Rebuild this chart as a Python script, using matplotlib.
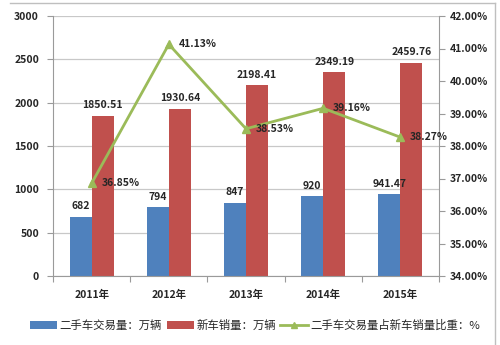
import matplotlib
matplotlib.use("Agg")
import matplotlib.pyplot as plt
from matplotlib.lines import Line2D
import numpy as np

plt.rcParams['font.family'] = ['Noto Sans CJK SC', 'DejaVu Sans']

years = ["2011年", "2012年", "2013年", "2014年", "2015年"]
used_cars = [682, 794, 847, 920, 941.47]
new_cars = [1850.51, 1930.64, 2198.41, 2349.19, 2459.76]
ratio = [36.85, 41.13, 38.53, 39.16, 38.27]
used_labels = ["682", "794", "847", "920", "941.47"]
new_labels = ["1850.51", "1930.64", "2198.41", "2349.19", "2459.76"]

BLUE = "#4F81BD"
RED = "#C0504D"
GREEN = "#9BBB59"
TXT = "#262626"
GRID = "#C8C8C8"
SPINE = "#9A9A9A"

fig = plt.figure(figsize=(5.0, 3.45), dpi=100)
ax = fig.add_axes([53/500, 1-276/345, (439-53)/500, (276-16)/345])
ax2 = ax.twinx()

x = np.arange(len(years))
w = 0.285
b1 = ax.bar(x - w/2, used_cars, w, color=BLUE, zorder=2)
b2 = ax.bar(x + w/2, new_cars, w, color=RED, zorder=2)

for xi, v, s in zip(x, used_cars, used_labels):
    ax.annotate(s, (xi - w/2, v), xytext=(0, 4), textcoords="offset points",
                ha="center", va="bottom", fontsize=7.5, fontweight="bold", color=TXT)
for xi, v, s in zip(x, new_cars, new_labels):
    ax.annotate(s, (xi + w/2, v), xytext=(0, 4), textcoords="offset points",
                ha="center", va="bottom", fontsize=7.5, fontweight="bold", color=TXT)

ax.set_ylim(0, 3000)
ax.set_yticks(np.arange(0, 3001, 500))
ax.set_xlim(-0.5, len(years) - 0.5)
ax.set_xticks(np.arange(-0.5, len(years), 1.0))
ax.set_xticklabels([])
ax.set_xticks(x, minor=True)
ax.set_xticklabels(years, minor=True)
ax.tick_params(axis="x", which="major", length=4, direction="out", color=SPINE)
ax.tick_params(axis="x", which="minor", length=0, pad=10, labelsize=7.5, labelcolor=TXT)
for lab in ax.get_xticklabels(minor=True):
    lab.set_fontweight("bold")
ax.tick_params(axis="y", length=4, direction="out", color=SPINE, labelsize=7.5, labelcolor=TXT, pad=6)
for lab in ax.get_yticklabels():
    lab.set_fontweight("bold")
ax.yaxis.grid(True, color=GRID, linewidth=0.9, zorder=0)
ax.set_axisbelow(True)
for sp in ["top", "right"]:
    ax.spines[sp].set_visible(False)
for sp in ["left", "bottom"]:
    ax.spines[sp].set_color(SPINE)

ln, = ax2.plot(x, ratio, color=GREEN, linewidth=2, marker="^", markersize=6,
               markerfacecolor=GREEN, markeredgecolor=GREEN, zorder=3)
for xi, v in zip(x, ratio):
    ax2.annotate(f"{v:.2f}%", (xi, v), xytext=(7, 0), textcoords="offset points",
                 ha="left", va="center", fontsize=7.5, fontweight="bold", color=TXT)
ax2.set_ylim(34, 42)
ax2.set_yticks(np.arange(34, 42.01, 1))
ax2.set_yticklabels([f"{t:.2f}%" for t in np.arange(34, 42.01, 1)])
ax2.tick_params(axis="y", length=4, direction="out", color=SPINE, labelsize=7.5, labelcolor=TXT, pad=4)
for lab in ax2.get_yticklabels():
    lab.set_fontweight("bold")
for sp in ["top", "left", "bottom"]:
    ax2.spines[sp].set_visible(False)
ax2.spines["right"].set_color(SPINE)

handles = [b1, b2, Line2D([0], [0], color=GREEN, linewidth=2, marker="^", markersize=5)]
labels = ["二手车交易量：万辆", "新车销量：万辆", "二手车交易量占新车销量比重：%"]
fig.legend(handles, labels, loc="center", bbox_to_anchor=(0.51, 1-325/345), ncol=3,
           frameon=False, fontsize=8.2, handlelength=2.4, handleheight=0.7,
           columnspacing=0.4, handletextpad=0.2, labelcolor=TXT)

# outer frame
fig.add_artist(Line2D([10/500, 495/500], [1-3/345, 1-3/345], color="#BFBFBF", linewidth=1))
fig.add_artist(Line2D([495/500, 495/500], [1-3/345, 0], color="#BFBFBF", linewidth=1))

fig.savefig("out.png", dpi=100)
